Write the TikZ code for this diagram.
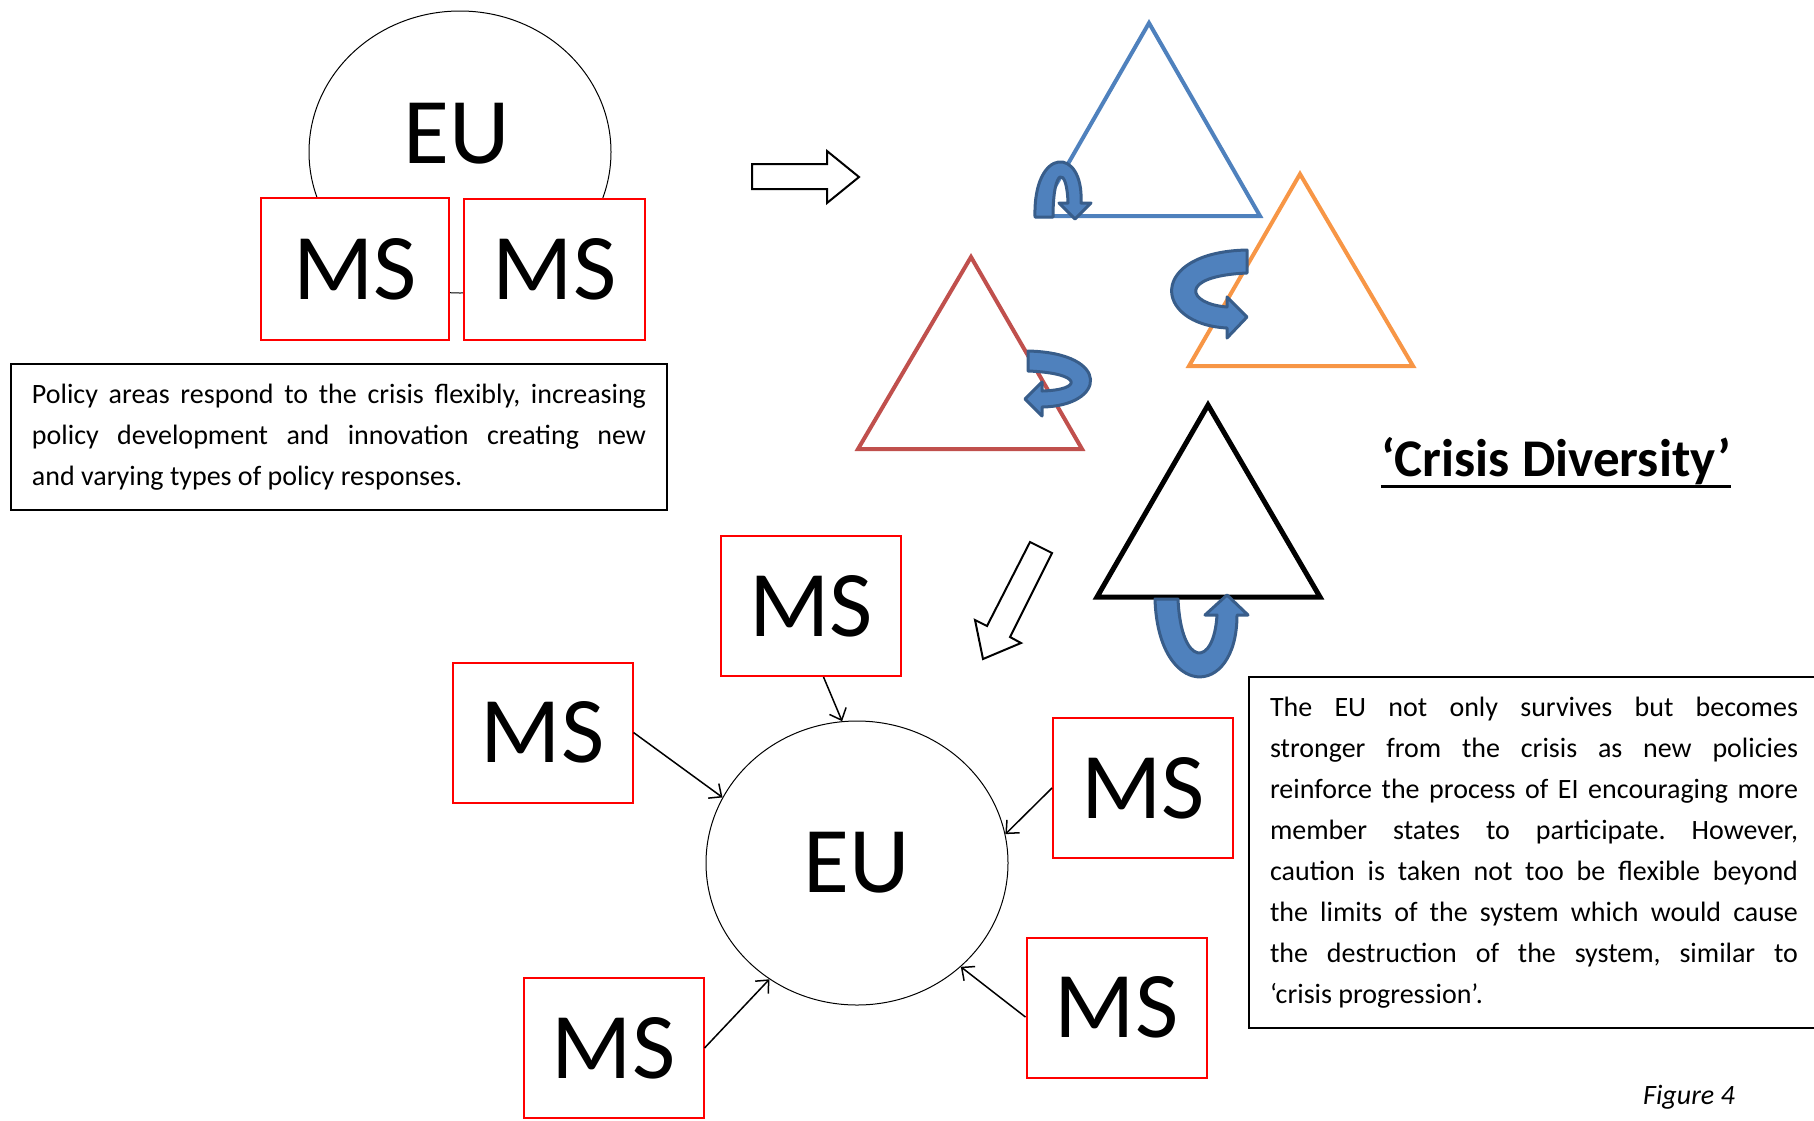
\documentclass[tikz,border=0pt]{standalone}
\usepackage{fontspec}
\setmainfont{Carlito}
\usetikzlibrary{shapes.geometric,arrows.meta}
\definecolor{triblue}{HTML}{4F81BD}
\definecolor{triorange}{HTML}{F79646}
\definecolor{trired}{HTML}{C0504D}
\definecolor{curlfill}{HTML}{4F81BD}
\definecolor{curledge}{HTML}{385D8A}
\hyphenpenalty=10000
\exhyphenpenalty=10000
\frenchspacing
\hbadness=10000
\tikzset{
  bigtext/.style={font=\fontsize{47}{50}\selectfont, inner sep=0pt},
  msbox/.style={draw=red, line width=1pt, fill=white, bigtext, minimum width=90pt, minimum height=70pt},
  euball/.style={ellipse, draw, line width=0.5pt, bigtext, minimum width=151pt, minimum height=141pt},
  notebox/.style={draw, line width=1pt, text width=307pt, align=justify, inner xsep=10.5pt, inner ysep=10pt,
    font=\fontsize{14}{20.5}\selectfont},
  tri/.style={line width=2pt, line join=miter},
  curl/.style={fill=curlfill, draw=curledge, line width=1.5pt, line join=round},
  block/.style={draw, line width=1pt, fill=white},
  feed/.style={draw, line width=0.75pt, -{Straight Barb[length=5pt,width=9pt]}}
}
\begin{document}
\begin{tikzpicture}[x=0.5pt, y=-0.5pt]
    \useasboundingbox (0,0) rectangle (1814,1120);
    % starting point
    \node[euball] (euTop) at (460,152) {};
    \node[bigtext] (euTopText) at (457,134) {EU};
    \node[msbox, minimum width=94pt, minimum height=71pt] (ms1) at (355,269) {MS};
    \node[msbox, minimum width=90.5pt, minimum height=70.5pt] (ms2) at (554.5,269.5) {MS};
    \node[notebox, anchor=north west] (noteFlex) at (10,363)
        {Policy areas respond to the crisis flexibly, increasing\linebreak
         policy development and innovation creating new\linebreak
         and varying types of policy responses.};
    % block arrows
    \draw[block] (752,164) -- (827,164) -- (827,151) -- (859,177) -- (827,203) -- (827,189) -- (752,189) -- cycle;
    \draw[block] (1030,542) -- (1052,553) -- (1010,637) -- (1021,643) -- (983,659) -- (975,620) -- (987,626) -- cycle;
    % triangles
    \draw[tri, triblue] (1149,23) -- (1260,216) -- (1038,216) -- cycle;
    \draw[tri, triorange] (1300,174) -- (1413,366) -- (1189,366) -- cycle;
    \draw[tri, trired] (971,257) -- (1082,449) -- (858,449) -- cycle;
    \draw[tri, black, line width=2.5pt] (1208,405) -- (1320,597) -- (1097,597) -- cycle;
    % curved arrows
    \draw[curl] (1035,217) .. controls (1033,146) and (1084,146) .. (1081,203) -- (1091,203) -- (1075,219)
        -- (1059,203) -- (1068,203) .. controls (1067,166) and (1053,166) .. (1053,217) -- cycle;
    \draw[curl] (1247,250) .. controls (1148,252) and (1152,324) .. (1227,328) -- (1227,338) -- (1247,317)
        -- (1227,297) -- (1227,307) .. controls (1187,304) and (1177,276) .. (1247,273) -- cycle;
    \draw[curl] (1028,351) .. controls (1112,353) and (1106,406) .. (1042,407) -- (1042,416) -- (1025,399)
        -- (1042,382) -- (1042,391) .. controls (1083,390) and (1083,373) .. (1028,371) -- cycle;
    \draw[curl] (1155,599) .. controls (1158,700) and (1237,700) .. (1237,615) -- (1248,615) -- (1227,595)
        -- (1205,615) -- (1217,615) .. controls (1214,668) and (1181,668) .. (1178,599) -- cycle;
    \node[font=\fontsize{26.5}{30}\selectfont\bfseries, inner sep=0pt, anchor=base] (crisis) at (1556,476) {‘Crisis Diversity’};
    \draw[line width=1.5pt] ([yshift=-1pt]crisis.south west) -- ([yshift=-1pt]crisis.south east);
    % result
    \node[euball, minimum height=142pt] (euBot) at (857,863) {EU};
    \node[msbox] (msTop) at (811,606) {MS};
    \node[msbox] (msLeft) at (542.5,732.5) {MS};
    \node[msbox] (msRight) at (1143,788) {MS};
    \node[msbox] (msBotL) at (613.5,1048) {MS};
    \node[msbox] (msBotR) at (1116.5,1007.5) {MS};
    \path
    (msTop.-80) edge[feed] (euBot.96)
    (msLeft.east) edge[feed] (euBot.154)
    (msRight.west) edge[feed] (euBot.11)
    (msBotL.east) edge[feed] (euBot.233)
    (msBotR.186) edge[feed] (euBot.315)
    ;
    \node[notebox, text width=264pt, anchor=north west] (noteStrong) at (1248,676)
        {The EU not only survives but becomes\linebreak
         stronger from the crisis as new policies\linebreak
         reinforce the process of EI encouraging more\linebreak
         member states to participate. However,\linebreak
         caution is taken not too be flexible beyond\linebreak
         the limits of the system which would cause\linebreak
         the destruction of the system, similar to\linebreak
         ‘crisis progression’.};
    \node[font=\fontsize{14}{16}\selectfont\itshape, inner sep=0pt] (figLabel) at (1689,1097) {Figure 4};
\end{tikzpicture}
\end{document}
